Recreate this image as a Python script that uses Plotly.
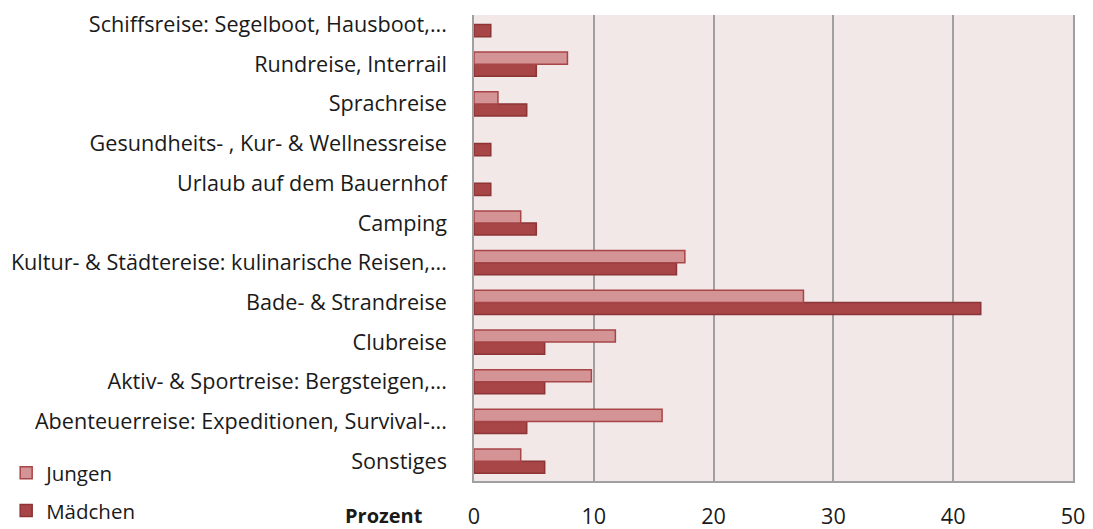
import plotly.graph_objects as go

categories = [
    "Sonstiges",
    "Abenteuerreise: Expeditionen, Survival-...",
    "Aktiv- & Sportreise: Bergsteigen,...",
    "Clubreise",
    "Bade- & Strandreise",
    "Kultur- & Städtereise: kulinarische Reisen,...",
    "Camping",
    "Urlaub auf dem Bauernhof",
    "Gesundheits- , Kur- & Wellnessreise",
    "Sprachreise",
    "Rundreise, Interrail",
    "Schiffsreise: Segelboot, Hausboot,...",
]
jungen = [3.9, 15.7, 9.8, 11.8, 27.5, 17.6, 3.9, None, None, 2.0, 7.8, None]
maedchen = [5.9, 4.4, 5.9, 5.9, 42.3, 16.9, 5.2, 1.4, 1.4, 4.4, 5.2, 1.4]
xticks = [0, 10, 20, 30, 40, 50]

FONT = "Open Sans"
FS = 21.6

fig = go.Figure()
fig.add_trace(go.Bar(
    y=categories, x=maedchen, orientation="h", name="Mädchen",
    marker=dict(color="#A84547", line=dict(color="#8C3436", width=1.5)),
    legendrank=2, legendgroup="m",
))
fig.add_trace(go.Bar(
    y=categories, x=jungen, orientation="h", name="Jungen",
    marker=dict(color="#D49395", line=dict(color="#A84547", width=1.5)),
    legendrank=1, legendgroup="j",
))

fig.update_layout(
    width=1093, height=529,
    margin=dict(l=474, r=20, t=15, b=48, autoexpand=False),
    paper_bgcolor="white",
    plot_bgcolor="#F2E8E8",
    barmode="group",
    bargap=0.39,
    bargroupgap=0,
    font=dict(family=FONT, size=FS, color="#1a1a1a"),
    showlegend=True,
    legend=dict(
        x=-0.781, y=0.06, xanchor="left", yanchor="top",
        font=dict(family=FONT, size=20.5),
        tracegroupgap=8,
        itemwidth=30,
        bgcolor="rgba(0,0,0,0)",
    ),
    xaxis=dict(
        range=[0, 50], tickvals=xticks, ticktext=[str(v) for v in xticks],
        showgrid=True, gridcolor="#A0A0A0", gridwidth=1.5,
        showline=True, linecolor="#A0A0A0", linewidth=1.5,
        zeroline=False,
        ticks="outside", ticklen=15, tickcolor="rgba(0,0,0,0)",
        tickfont=dict(family=FONT, size=FS),
        automargin=False,
        fixedrange=True,
    ),
    yaxis=dict(
        categoryorder="array", categoryarray=categories,
        range=[-0.5, 11.24],
        showline=True, linecolor="#A0A0A0", linewidth=1.5, mirror=True,
        showgrid=False,
        ticks="outside", ticklen=21, tickcolor="rgba(0,0,0,0)",
        tickfont=dict(family=FONT, size=FS),
        automargin=False,
        fixedrange=True,
    ),
    annotations=[dict(
        text="<b>Prozent</b>", xref="paper", yref="paper",
        x=-0.0818, y=-0.075, xanchor="right", yanchor="middle",
        showarrow=False, font=dict(family=FONT, size=20, color="#1a1a1a"),
    )],
)

fig.write_html(
    "out.html",
    config={"displayModeBar": False},
    post_script="document.documentElement.style.margin='0';document.body.style.margin='0';document.body.style.overflow='hidden';",
)
